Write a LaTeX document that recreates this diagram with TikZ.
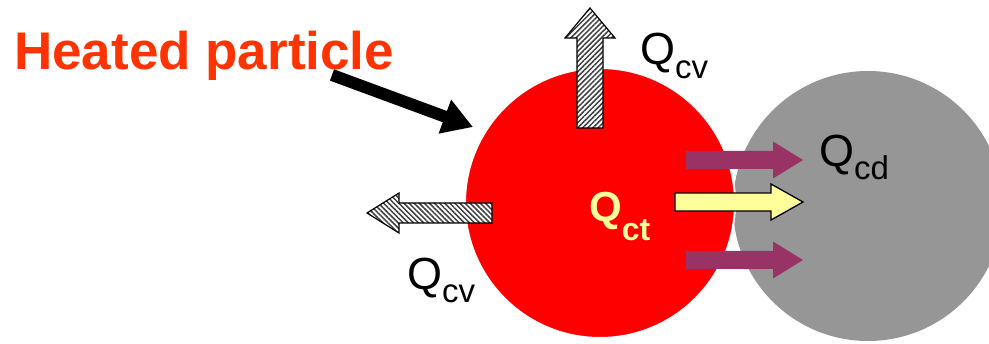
\documentclass[tikz,border=0pt]{standalone}
\usepackage{fontspec}
\setmainfont{Liberation Sans}
\usetikzlibrary{arrows.meta,patterns.meta}
\definecolor{heat}{HTML}{FF3300}
\definecolor{particle}{HTML}{FF0000}
\definecolor{neighbour}{HTML}{969696}
\definecolor{plum}{HTML}{993366}
\definecolor{paleyellow}{HTML}{FFFF99}
\definecolor{hatchgrey}{HTML}{404040}
\newcommand{\Qsub}[2]{Q\raisebox{#2}{\fontsize{33}{33}\selectfont #1}}
\begin{document}
\begin{tikzpicture}[x=1pt,y=-1pt,
  ball/.style={circle, inner sep=0pt, minimum size=270pt},
  hatchup/.style={draw=black, line width=1.2pt, preaction={fill=white},
    pattern={Lines[angle=45,distance=3.6pt,line width=1.5pt]}, pattern color=hatchgrey},
  hatchleft/.style={draw=black, line width=1.2pt, preaction={fill=white},
    pattern={Lines[angle=-45,distance=3.6pt,line width=1.5pt]}, pattern color=hatchgrey},
  plumarrow/.style={fill=plum},
  ctarrow/.style={fill=paleyellow, draw=black, line width=1.3pt},
  qlabel/.style={anchor=base west, inner sep=0pt, font=\fontsize{45}{45}\selectfont},
  pointer/.style={line width=12pt, -{Triangle[length=30pt,width=34pt]}}
]
\useasboundingbox (0,0) rectangle (989,344);
\clip (0,0) rectangle (989,344);
% spheres
\node[ball, fill=neighbour] (neigh) at (868,206) {};
\node[ball, fill=particle, draw=white, line width=2pt] (part) at (600,203) {};
% convection arrows (hatched)
\draw[hatchup] (577,128) -- (577,38) -- (565,38) -- (590,8) -- (615,38) -- (603,38) -- (603,128) -- cycle;
\draw[hatchleft] (492,203) -- (399,203) -- (399,193) -- (367,213) -- (399,233) -- (399,223) -- (492,223) -- cycle;
% conduction arrows
\fill[plumarrow] (686,151) -- (773,151) -- (773,141.5) -- (803,160) -- (773,178.5) -- (773,169) -- (686,169) -- cycle;
\fill[plumarrow] (686,251) -- (773,251) -- (773,241.5) -- (803,260) -- (773,278.5) -- (773,269) -- (686,269) -- cycle;
% contact arrow
\draw[ctarrow] (675,193) -- (771,193) -- (771,184) -- (803,202) -- (771,220) -- (771,211) -- (675,211) -- cycle;
% labels
\node[anchor=base west, inner sep=0pt, text=heat, font=\bfseries\fontsize{53}{53}\selectfont] (title) at (14,70) {Heated particle};
\coordinate (ptail) at (332,75);
\coordinate (ptip) at (473,127);
\draw[pointer] (ptail) -- (ptip);
\node[qlabel] (qcvtop) at (640,65) {\Qsub{cv}{-14pt}};
\node[qlabel] (qcvleft) at (407,290) {\Qsub{cv}{-13pt}};
\node[qlabel] (qcd) at (819,167) {\Qsub{cd}{-13pt}};
\node[qlabel, text=paleyellow, font=\bfseries\fontsize{42}{42}\selectfont] (qct) at (589,222) {Q\raisebox{-19pt}{\fontsize{32}{32}\selectfont ct}};
\end{tikzpicture}
\end{document}
